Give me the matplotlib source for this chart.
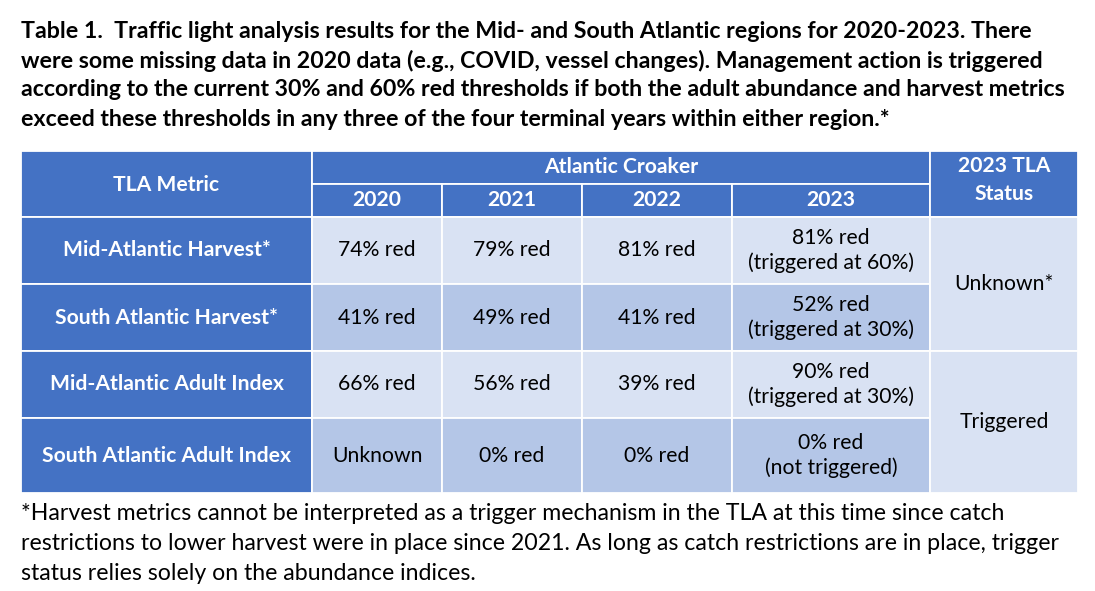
import matplotlib.pyplot as plt
from matplotlib.patches import Rectangle

# table content
metrics = ["Mid-Atlantic Harvest*", "South Atlantic Harvest*",
           "Mid-Atlantic Adult Index", "South Atlantic Adult Index"]
years = ["2020", "2021", "2022", "2023"]
pct_red = [[74, 79, 81, 81],
           [41, 49, 41, 52],
           [66, 56, 39, 90],
           [None, 0, 0, 0]]
notes_2023 = ["triggered at 60%", "triggered at 30%", "triggered at 30%", "not triggered"]
status = ["Unknown*", "Triggered"]

title_lines = [
    "Table 1.  Traffic light analysis results for the Mid- and South Atlantic regions for 2020-2023. There",
    "were some missing data in 2020 data (e.g., COVID, vessel changes). Management action is triggered",
    "according to the current 30% and 60% red thresholds if both the adult abundance and harvest metrics",
    "exceed these thresholds in any three of the four terminal years within either region.*",
]
foot_lines = [
    "*Harvest metrics cannot be interpreted as a trigger mechanism in the TLA at this time since catch",
    "restrictions to lower harvest were in place since 2021. As long as catch restrictions are in place, trigger",
    "status relies solely on the abundance indices.",
]

# layout (pixels)
col_x = [21, 312, 442, 582, 732, 930, 1078]
head_y = [151, 184, 217]
row_y = [217, 284, 351, 418, 493]

blue = "#4472C4"
light = "#D9E2F3"
mid = "#B4C6E7"
font = "Lato"
fs = 15.2

fig = plt.figure(figsize=(10.95, 5.91), dpi=100)
ax = fig.add_axes([0, 0, 1, 1])
ax.set_xlim(0, 1095)
ax.set_ylim(591, 0)
ax.axis("off")


def cell(x0, x1, y0, y1, color):
    ax.add_patch(Rectangle((x0, y0), x1 - x0, y1 - y0, facecolor=color,
                           edgecolor="white", linewidth=1.3))


# header
cell(col_x[0], col_x[1], head_y[0], head_y[2], blue)
ax.text((col_x[0] + col_x[1]) / 2, 185, "TLA Metric", ha="center", va="center",
        color="white", fontweight="bold", fontsize=fs, family=font)
cell(col_x[1], col_x[5], head_y[0], head_y[1], blue)
ax.text((col_x[1] + col_x[5]) / 2, 167, "Atlantic Croaker", ha="center", va="center",
        color="white", fontweight="bold", fontsize=fs, family=font)
for i, yr in enumerate(years):
    cell(col_x[i + 1], col_x[i + 2], head_y[1], head_y[2], blue)
    ax.text((col_x[i + 1] + col_x[i + 2]) / 2, 200, yr, ha="center", va="center",
            color="white", fontweight="bold", fontsize=fs, family=font)
cell(col_x[5], col_x[6], head_y[0], head_y[2], blue)
ax.text((col_x[5] + col_x[6]) / 2, 180, "2023 TLA\nStatus", ha="center", va="center",
        color="white", fontweight="bold", fontsize=fs, family=font, linespacing=1.45)

# body
for r, name in enumerate(metrics):
    y0, y1 = row_y[r], row_y[r + 1]
    yc = (y0 + y1) / 2
    bg = light if r % 2 == 0 else mid
    cell(col_x[0], col_x[1], y0, y1, blue)
    ax.text((col_x[0] + col_x[1]) / 2, yc, name, ha="center", va="center",
            color="white", fontweight="bold", fontsize=fs, family=font)
    for c in range(4):
        cell(col_x[c + 1], col_x[c + 2], y0, y1, bg)
        v = pct_red[r][c]
        label = "Unknown" if v is None else f"{v}% red"
        if c == 3:
            label += f"\n({notes_2023[r]})"
        ax.text((col_x[c + 1] + col_x[c + 2]) / 2, yc, label, ha="center", va="center",
                color="black", fontsize=fs, family=font, linespacing=1.25)

for k, s in enumerate(status):
    y0, y1 = row_y[2 * k], row_y[2 * k + 2]
    cell(col_x[5], col_x[6], y0, y1, light)
    ax.text((col_x[5] + col_x[6]) / 2, (y0 + y1) / 2, s, ha="center", va="center",
            color="black", fontsize=fs, family=font)

# caption and footnote
for i, line in enumerate(title_lines):
    ax.text(21, 31 + i * 29.5, line, ha="left", va="center", fontweight="bold",
            fontsize=16.7, family=font, color="black")
for i, line in enumerate(foot_lines):
    ax.text(21, 513 + i * 30.5, line, ha="left", va="center",
            fontsize=16.7, family=font, color="black")

fig.savefig("out.png", dpi=100)
